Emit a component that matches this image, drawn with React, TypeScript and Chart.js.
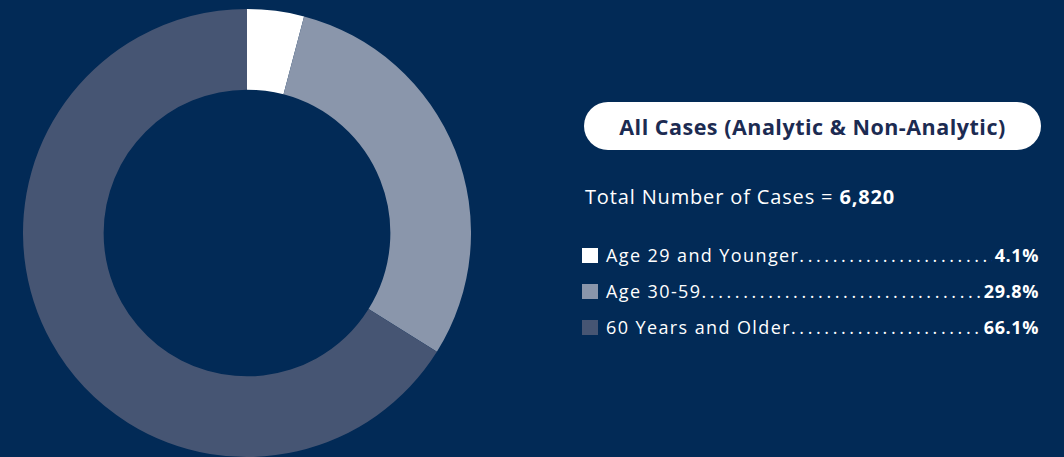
import React, { useEffect, useRef } from "react";
import { Chart, registerables } from "chart.js";

Chart.register(...registerables);

const categories = ["Age 29 and Younger", "Age 30-59", "60 Years and Older"];
const percentValues = [4.1, 29.8, 66.1];
const valueLabels = ["4.1%", "29.8%", "66.1%"];
const sliceColors = ["#ffffff", "#8a96ab", "#465573"];
const titleText = "All Cases (Analytic & Non-Analytic)";
const totalLabel = "Total Number of Cases = ";
const totalValue = "6,820";

const BG = "#022a56";
const FONT = "'Open Sans', 'Noto Sans', sans-serif";

export default function App() {
  const canvasRef = useRef<HTMLCanvasElement | null>(null);

  useEffect(() => {
    if (!canvasRef.current) return;
    const chart = new Chart(canvasRef.current, {
      type: "doughnut",
      data: {
        labels: categories,
        datasets: [
          {
            data: percentValues,
            backgroundColor: sliceColors,
            borderWidth: 0,
            hoverOffset: 0,
          },
        ],
      },
      options: {
        responsive: false,
        maintainAspectRatio: false,
        animation: false,
        cutout: "64%",
        layout: { padding: 0 },
        plugins: {
          legend: { display: false },
          tooltip: { enabled: false },
          title: { display: false },
        },
      },
    });
    return () => chart.destroy();
  }, []);

  return (
    <div
      style={{
        position: "fixed",
        left: 0,
        top: 0,
        width: 1064,
        height: 457,
        background: BG,
        overflow: "hidden",
        fontFamily: FONT,
      }}
    >
      <canvas
        ref={canvasRef}
        width={448}
        height={448}
        style={{ position: "absolute", left: 23, top: 9, width: 448, height: 448 }}
      />
      <div
        style={{
          position: "absolute",
          left: 584,
          top: 102,
          width: 457,
          height: 48,
          borderRadius: 24,
          background: "#ffffff",
          color: "#1c2b52",
          fontWeight: 700,
          fontSize: 21.5,
          letterSpacing: 0.5,
          display: "flex",
          alignItems: "center",
          justifyContent: "center",
          whiteSpace: "nowrap",
        }}
      >
        {titleText}
      </div>
      <div
        style={{
          position: "absolute",
          left: 585,
          top: 184,
          color: "#ffffff",
          fontSize: 20,
          letterSpacing: 0.85,
          whiteSpace: "nowrap",
          lineHeight: "26px",
        }}
      >
        {totalLabel}
        <span style={{ fontWeight: 700 }}>{totalValue}</span>
      </div>
      {categories.map((c, i) => (
        <div
          key={c}
          style={{
            position: "absolute",
            left: 582,
            top: 243 + i * 36,
            width: 457,
            height: 24,
            display: "flex",
            alignItems: "center",
            color: "#ffffff",
            fontSize: 18,
            whiteSpace: "nowrap",
          }}
        >
          <div
            style={{
              width: 16,
              height: 15,
              background: sliceColors[i],
              marginRight: 8,
              flex: "none",
            }}
          />
          <span style={{ flex: "none", letterSpacing: 1.4 }}>{c}</span>
          <span
            style={{
              flex: 1,
              overflow: "hidden",
              letterSpacing: 3.6,
              margin: "0 3px 0 0",
            }}
          >
            {".".repeat(80)}
          </span>
          <span style={{ fontWeight: 700, flex: "none", letterSpacing: 0.6 }}>{valueLabels[i]}</span>
        </div>
      ))}
    </div>
  );
}
